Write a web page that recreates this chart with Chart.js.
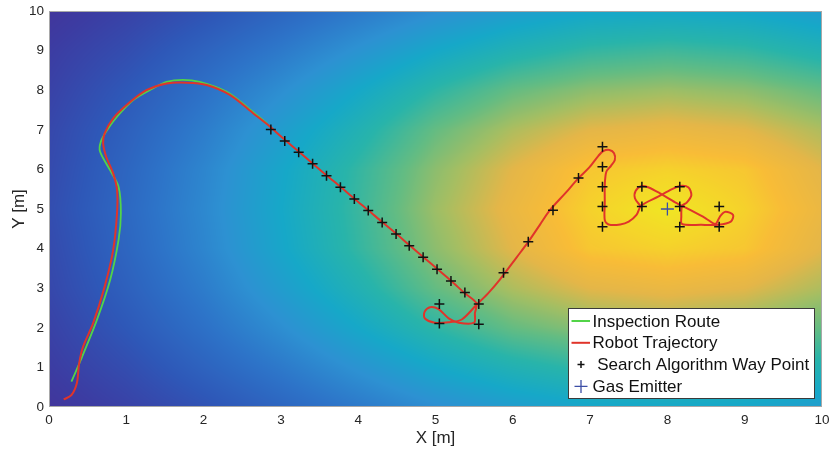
<!DOCTYPE html>
<html>
<head>
<meta charset="utf-8">
<title>Gas source search</title>
<script src="https://cdn.jsdelivr.net/npm/chart.js@4"></script>
<style>
  html, body { margin: 0; padding: 0; background: #fff; }
  #plume { display: block; }
</style>
</head>
<body>
<canvas id="plume" width="831" height="454"></canvas>
<script>
// Ruta de inspección (verde)
var routeX = [0.29, 0.42, 0.62, 0.79, 0.90, 0.93, 0.90, 0.79, 0.66, 0.67, 0.75, 0.88, 1.09, 1.35, 1.52, 1.73, 1.95, 2.30, 2.56, 2.82];
var routeY = [0.64, 1.23, 2.20, 3.20, 4.22, 4.89, 5.56, 5.98, 6.45, 6.70, 6.99, 7.33, 7.75, 8.05, 8.21, 8.26, 8.21, 7.96, 7.58, 7.16];

// Trayectoria del robot (rojo)
var trajX = [0.19, 0.29, 0.36, 0.39, 0.44, 0.57, 0.72, 0.83, 0.88, 0.88, 0.83, 0.74, 0.70, 0.72, 0.83, 1.03, 1.26, 1.52, 1.78, 2.04,
  2.34, 2.64, 2.86, 2.95, 3.05, 3.23, 3.41, 3.59, 3.77, 3.95, 4.13, 4.31, 4.49, 4.66, 4.84, 5.02, 5.20, 5.38, 5.53, 5.51,
  5.50, 5.30, 5.17, 5.04, 4.93, 4.86, 4.86, 4.99, 5.17, 5.34, 5.53, 5.68, 5.83, 6.05, 6.20, 6.35, 6.48, 6.68, 6.85, 6.99,
  7.11, 7.17, 7.25, 7.31, 7.32, 7.27, 7.21, 7.19, 7.19, 7.19, 7.24, 7.39, 7.50, 7.60, 7.66, 7.88, 8.06, 8.16, 8.27, 8.31,
  8.25, 8.19, 8.18, 8.19, 8.44, 8.66, 8.82, 8.85, 8.75, 8.68, 8.62, 8.50, 8.30, 8.10, 7.90, 7.75, 7.67, 7.59, 7.58, 7.65];
var trajY = [0.19, 0.30, 0.60, 1.10, 1.52, 2.11, 3.04, 3.96, 4.89, 5.48, 5.90, 6.32, 6.66, 6.91, 7.29, 7.67, 8.00, 8.17, 8.19, 8.13,
  7.88, 7.42, 7.08, 6.92, 6.75, 6.45, 6.15, 5.85, 5.56, 5.26, 4.97, 4.67, 4.38, 4.09, 3.79, 3.49, 3.19, 2.87, 2.62, 2.37,
  2.13, 2.13, 2.24, 2.47, 2.52, 2.41, 2.24, 2.13, 2.14, 2.21, 2.58, 2.87, 3.21, 3.78, 4.17, 4.60, 4.97, 5.40, 5.78, 6.05,
  6.35, 6.46, 6.49, 6.41, 6.24, 6.09, 5.94, 5.61, 5.18, 4.72, 4.61, 4.61, 4.68, 4.85, 5.08, 5.31, 5.50, 5.58, 5.55, 5.35,
  5.16, 5.08, 4.81, 4.62, 4.60, 4.60, 4.68, 4.85, 4.93, 4.81, 4.62, 4.76, 4.97, 5.17, 5.40, 5.55, 5.58, 5.46, 5.27, 5.08];

// Puntos del algoritmo de búsqueda
var wayX = [2.87, 3.05, 3.23, 3.41, 3.59, 3.77, 3.95, 4.13, 4.31, 4.49, 4.66, 4.84, 5.02, 5.20, 5.38, 5.56, 5.56, 5.05, 5.05,
  5.88, 6.20, 6.52, 6.85, 7.16, 7.16, 7.16, 7.16, 7.16, 7.67, 7.67, 8.16, 8.16, 8.16, 8.67, 8.67];
var wayY = [7.01, 6.72, 6.43, 6.14, 5.84, 5.55, 5.25, 4.96, 4.66, 4.37, 4.07, 3.78, 3.48, 3.18, 2.89, 2.60, 2.09, 2.60, 2.11,
  3.39, 4.17, 4.97, 5.78, 6.57, 6.07, 5.56, 5.06, 4.55, 5.56, 5.06, 5.56, 5.06, 4.55, 5.06, 4.55];

// Emisor de gas
var emitterX = [8.0];
var emitterY = [5.0];

var gasLevel = [
  [0.07, 0.12, 0.18, 0.25, 0.32, 0.39, 0.45, 0.49, 0.50, 0.49, 0.45],
  [0.10, 0.16, 0.24, 0.32, 0.41, 0.50, 0.57, 0.62, 0.64, 0.62, 0.57],
  [0.12, 0.20, 0.29, 0.39, 0.50, 0.61, 0.70, 0.75, 0.77, 0.75, 0.70],
  [0.14, 0.23, 0.33, 0.45, 0.57, 0.70, 0.79, 0.85, 0.87, 0.85, 0.79],
  [0.15, 0.25, 0.36, 0.49, 0.62, 0.75, 0.85, 0.93, 0.95, 0.93, 0.85],
  [0.16, 0.26, 0.37, 0.50, 0.63, 0.77, 0.87, 0.95, 1.00, 0.95, 0.87],
  [0.15, 0.25, 0.36, 0.49, 0.62, 0.75, 0.85, 0.93, 0.95, 0.93, 0.85],
  [0.14, 0.23, 0.33, 0.45, 0.57, 0.70, 0.79, 0.85, 0.87, 0.85, 0.79],
  [0.12, 0.20, 0.29, 0.39, 0.50, 0.61, 0.70, 0.75, 0.77, 0.75, 0.70],
  [0.10, 0.16, 0.24, 0.32, 0.41, 0.50, 0.57, 0.62, 0.64, 0.62, 0.57],
  [0.07, 0.12, 0.18, 0.25, 0.32, 0.39, 0.45, 0.49, 0.50, 0.49, 0.45]
];

// Escala de color tipo parula
var cmap = [
  [0.00, 78, 40, 140], [0.10, 60, 60, 162], [0.20, 46, 88, 184], [0.30, 45, 115, 200],
  [0.40, 45, 145, 210], [0.50, 22, 168, 200], [0.60, 40, 180, 170], [0.70, 100, 188, 130],
  [0.78, 165, 190, 98], [0.85, 228, 182, 72], [0.91, 248, 188, 55], [0.955, 245, 212, 42], [1.00, 240, 230, 35]
];

function toPoints(xs, ys) {
  return xs.map(function (x, i) { return { x: x, y: ys[i] }; });
}

function colorAt(v) {
  if (v <= cmap[0][0]) return cmap[0].slice(1);
  for (var k = 1; k < cmap.length; k++) {
    if (v <= cmap[k][0]) {
      var a = cmap[k - 1], b = cmap[k];
      var t = (v - a[0]) / (b[0] - a[0]);
      return [a[1] + t * (b[1] - a[1]), a[2] + t * (b[2] - a[2]), a[3] + t * (b[3] - a[3])];
    }
  }
  return cmap[cmap.length - 1].slice(1);
}

function levelAt(gx, gy) {
  var rows = gasLevel.length, cols = gasLevel[0].length;
  var c = Math.min(Math.max(gx, 0), cols - 1);
  var r = Math.min(Math.max((rows - 1) - gy, 0), rows - 1);
  var c0 = Math.min(Math.floor(c), cols - 2), r0 = Math.min(Math.floor(r), rows - 2);
  var tc = c - c0, tr = r - r0;
  var top = gasLevel[r0][c0] * (1 - tc) + gasLevel[r0][c0 + 1] * tc;
  var bot = gasLevel[r0 + 1][c0] * (1 - tc) + gasLevel[r0 + 1][c0 + 1] * tc;
  return top * (1 - tr) + bot * tr;
}

// Mapa de concentración de fondo
var heatmapPlugin = {
  id: 'heatmap',
  beforeDatasetsDraw: function (chart) {
    var a = chart.chartArea, xs = chart.scales.x, ys = chart.scales.y;
    var left = Math.round(a.left), top = Math.round(a.top);
    var w = Math.round(a.right) - left, h = Math.round(a.bottom) - top;
    var off = document.createElement('canvas');
    off.width = w; off.height = h;
    var octx = off.getContext('2d');
    var img = octx.createImageData(w, h);
    for (var j = 0; j < h; j++) {
      var gy = ys.getValueForPixel(top + j + 0.5);
      for (var i = 0; i < w; i++) {
        var gx = xs.getValueForPixel(left + i + 0.5);
        var col = colorAt(levelAt(gx, gy));
        var p = (j * w + i) * 4;
        img.data[p] = col[0]; img.data[p + 1] = col[1]; img.data[p + 2] = col[2]; img.data[p + 3] = 255;
      }
    }
    octx.putImageData(img, 0, 0);
    chart.ctx.drawImage(off, left, top);
    chart.ctx.save();
    chart.ctx.strokeStyle = '#a8a8a8';
    chart.ctx.lineWidth = 1;
    chart.ctx.strokeRect(left + 0.5, top + 0.5, w - 1, h - 1);
    chart.ctx.restore();
  }
};

// Leyenda dentro del área del gráfico, abajo a la derecha
var boxLegend = {
  id: 'boxLegend',
  afterDraw: function (chart) {
    var ctx = chart.ctx, a = chart.chartArea;
    var bx = a.right - 254, by = a.bottom - 99, bw = 246, bh = 90;
    ctx.save();
    ctx.fillStyle = '#ffffff';
    ctx.fillRect(bx, by, bw, bh);
    ctx.strokeStyle = '#3a3a3a';
    ctx.lineWidth = 1;
    ctx.strokeRect(Math.round(bx) + 0.5, Math.round(by) + 0.5, bw, bh);
    ctx.font = '17px "Liberation Sans", Arial, sans-serif';
    ctx.textBaseline = 'middle';
    ctx.fillStyle = '#111';
    [0, 1, 2, 3].forEach(function (di, k) {
      var ds = chart.data.datasets[di];
      var y = by + 13 + k * 21.8;
      if (ds.showLine) {
        ctx.strokeStyle = ds.borderColor;
        ctx.lineWidth = 2;
        ctx.beginPath();
        ctx.moveTo(bx + 3.5, y);
        ctx.lineTo(bx + 22, y);
        ctx.stroke();
      } else {
        var r = ds.legendRadius;
        ctx.strokeStyle = ds.borderColor;
        ctx.lineWidth = ds.pointBorderWidth;
        ctx.beginPath();
        ctx.moveTo(bx + 13 - r, y); ctx.lineTo(bx + 13 + r, y);
        ctx.moveTo(bx + 13, y - r); ctx.lineTo(bx + 13, y + r);
        ctx.stroke();
      }
      ctx.fillStyle = '#111';
      ctx.fillText(ds.label, bx + 24.5, y + 1);
    });
    ctx.restore();
  }
};

var tickFont = { family: '"Liberation Sans", Arial, sans-serif', size: 13.5 };
var titleFont = { family: '"Liberation Sans", Arial, sans-serif', size: 17 };

var ctx = document.getElementById('plume').getContext('2d');
var chart = new Chart(ctx, {
  type: 'scatter',
  data: {
    datasets: [{
      label: 'Inspection Route',
      data: toPoints(routeX, routeY),
      showLine: true,
      borderColor: '#52d448',
      borderWidth: 1.8,
      pointRadius: 0,
      tension: 0.3,
      order: 3
    }, {
      label: 'Robot Trajectory',
      data: toPoints(trajX, trajY),
      showLine: true,
      borderColor: '#e0342a',
      borderWidth: 2,
      pointRadius: 0,
      tension: 0.3,
      order: 2
    }, {
      label: ' Search Algorithm Way Point',
      data: toPoints(wayX, wayY),
      showLine: false,
      pointStyle: 'cross',
      pointRadius: 5,
      borderColor: '#111111',
      backgroundColor: '#111111',
      pointBorderWidth: 1.5,
      legendRadius: 3.5,
      order: 1
    }, {
      label: 'Gas Emitter',
      data: toPoints(emitterX, emitterY),
      showLine: false,
      pointStyle: 'cross',
      pointRadius: 6.5,
      borderColor: '#3c4ea6',
      backgroundColor: '#3c4ea6',
      pointBorderWidth: 1.3,
      legendRadius: 6.5,
      order: 0
    }]
  },
  options: {
    responsive: false,
    animation: false,
    layout: { padding: { top: 11, right: 9, left: 0, bottom: 0 } },
    plugins: {
      legend: { display: false },
      tooltip: { enabled: false }
    },
    scales: {
      x: {
        type: 'linear',
        min: 0,
        max: 10,
        ticks: { stepSize: 1, padding: 5, color: '#262626', font: tickFont },
        grid: { display: false, drawTicks: false },
        border: { display: false },
        title: { display: true, text: 'X [m]', color: '#262626', font: titleFont, padding: { top: 0, bottom: 5 } },
        afterFit: function (s) { s.height = 47; s.paddingLeft = 0; s.paddingRight = 0; }
      },
      y: {
        type: 'linear',
        min: 0,
        max: 10,
        ticks: { stepSize: 1, padding: 5, color: '#262626', font: tickFont },
        grid: { display: false, drawTicks: false },
        border: { display: false },
        title: { display: true, text: 'Y [m]', color: '#262626', font: titleFont, padding: { top: 9, bottom: 0 } },
        afterFit: function (s) { s.width = 49; s.paddingTop = 0; s.paddingBottom = 0; }
      }
    }
  },
  plugins: [heatmapPlugin, boxLegend]
});
</script>
</body>
</html>
